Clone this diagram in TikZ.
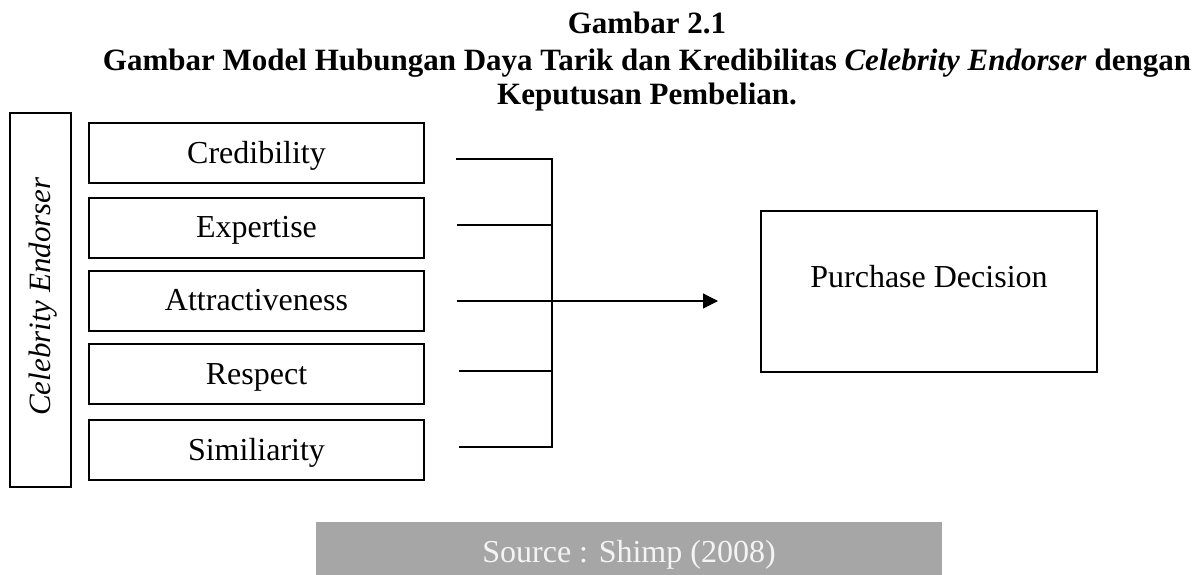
\documentclass[tikz,border=0pt]{standalone}
\usepackage{fontspec}
\setmainfont{Liberation Serif}
\usetikzlibrary{arrows.meta}
\definecolor{srcgray}{HTML}{A6A6A6}
\definecolor{srctext}{HTML}{F4F4F4}
\begin{document}
\begin{tikzpicture}[x=1pt,y=-1pt,
  itembox/.style={draw,line width=2pt,minimum width=335pt,minimum height=60pt,inner sep=0pt,
    text height=20pt,text depth=0pt,font=\fontsize{32}{36}\selectfont},
  lbl/.style={font=\fontsize{32}{36}\selectfont,anchor=base,inner sep=0pt},
  conn/.style={line width=1.2pt},
  ttl/.style={font=\fontsize{31}{34}\selectfont\bfseries,anchor=base,inner sep=0pt}]
\useasboundingbox (0,0) rectangle (1203,574);

% title
\node[ttl] (t1) at (647,33) {Gambar 2.1};
\node[ttl] (t2) at (647,70) {Gambar Model Hubungan Daya Tarik dan Kredibilitas \textit{Celebrity Endorser} dengan};
\node[ttl] (t3) at (647,104) {Keputusan Pembelian.};

% left vertical box
\node[draw,line width=2pt,minimum width=61pt,minimum height=374pt,inner sep=0pt] (ce) at (40.5,300) {};
\node[lbl,rotate=90,font=\fontsize{31}{36}\selectfont\itshape] (cet) at (50,296.5) {Celebrity Endorser};

% items
\node[itembox] (b1) at (256.5,153) {Credibility};
\node[itembox] (b2) at (256.5,227.5) {Expertise};
\node[itembox] (b3) at (256.5,300.5) {Attractiveness};
\node[itembox] (b4) at (256.5,374) {Respect};
\node[itembox] (b5) at (256.5,450) {Similiarity};

% purchase decision
\node[draw,line width=2pt,minimum width=336pt,minimum height=161pt,inner sep=0pt] (pd) at (929,291.5) {};
\node[lbl] (pdt) at (929,287) {Purchase Decision};

% connectors
\coordinate (c1) at (456,159);
\coordinate (c2) at (457,225);
\coordinate (c3) at (457,301);
\coordinate (c4) at (459,371);
\coordinate (c5) at (459,447);
\coordinate (j1) at (552,159);
\coordinate (j5) at (552,447);
\coordinate (tip) at (718,301);
\draw[conn] (c1) -- (j1) -- (j5) -- (c5);
\draw[conn] (c2) -- (c2 -| j1);
\draw[conn] (c4) -- (c4 -| j1);
\draw[conn,-{Triangle[length=15pt,width=15pt]}] (c3) -- (tip);

% source bar
\node[fill=srcgray,minimum width=626pt,minimum height=54pt,inner sep=0pt,text height=27pt,text depth=0pt,
  text=srctext,font=\fontsize{32}{36}\selectfont] (src) at (629,549) {Source : Shimp (2008)};
\end{tikzpicture}
\end{document}
